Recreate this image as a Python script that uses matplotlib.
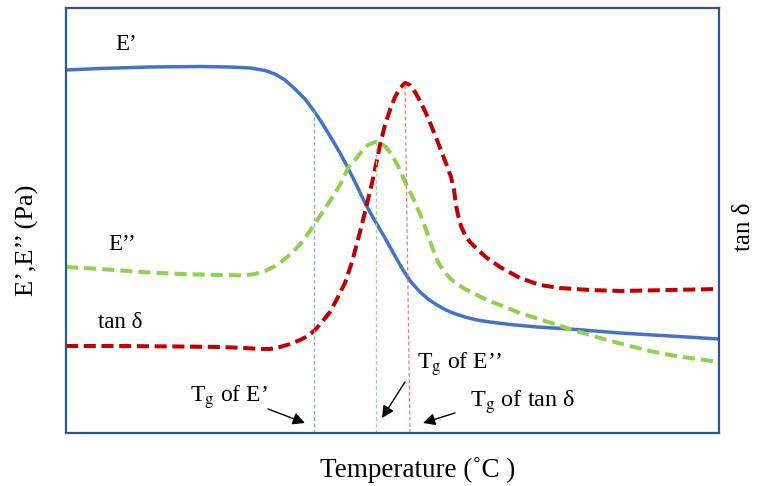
import numpy as np
import matplotlib
matplotlib.use('Agg')
import matplotlib.pyplot as plt

plt.rcParams['font.family'] = ['Liberation Serif', 'DejaVu Serif']
plt.rcParams['mathtext.fontset'] = 'stix'

# 温度（任意单位，无刻度），纵坐标为相对高度
temp_e1 = [66, 100, 150, 200, 230, 250, 265, 275, 285, 295, 305, 314, 322, 330, 340,
           348, 357, 366, 375, 385, 395, 403, 411, 420, 428, 437, 445, 453, 465, 477,
           490, 510, 537, 570, 620, 670, 719]
e_storage = [363, 364.5, 366, 366.5, 366, 365, 362.5, 359, 353, 344, 334, 322, 310, 297, 280,
             265, 247, 228, 212, 195, 177, 163, 151, 141, 134, 128, 123.5, 120, 116, 113,
             111, 108.5, 106, 104, 100, 97, 94]

temp_e2 = [66, 100, 140, 180, 220, 243, 255, 265, 275, 285, 293, 302, 310, 320, 330,
           340, 348, 355, 362, 368, 375, 380, 386, 392, 398, 403, 408, 414, 420, 425,
           430, 434, 438, 443, 448, 453, 465, 477, 487, 500, 520, 545, 570, 590, 607,
           630, 650, 670, 690, 719]
e_loss = [166, 164, 161, 159, 158, 157.5, 159, 162, 167, 174, 181, 191, 202, 217, 232,
          248, 265, 273, 282, 288, 291, 290, 286, 278, 267, 256, 245, 233, 219, 206,
          192, 181, 171, 163, 157, 152, 144, 138, 133, 128, 120, 112, 104, 98, 93,
          87, 82, 78, 75, 71]

temp_tan = [66, 120, 180, 220, 245, 260, 270, 280, 290, 300, 308, 315, 322, 330, 338,
            345, 352, 360, 366, 372, 377, 380, 385, 390, 395, 400, 405, 410, 415, 420,
            425, 431, 437, 442, 447, 451, 454, 456, 458, 461, 465, 470, 478, 487, 500,
            520, 540, 560, 590, 620, 670, 719]
tan_delta = [87, 87, 86.5, 86, 85, 84, 84, 86, 89, 93, 97, 103, 111, 121, 136,
             150, 171, 201, 225, 250, 273, 288, 308, 323, 336, 345, 350, 348, 341, 332,
             322, 308, 293, 280, 267, 256, 243, 228, 218, 207, 198, 191, 183, 175, 166,
             155, 148, 145, 143, 142, 143, 144]

# 各曲线的 Tg 位置
tg_e1 = 314
tg_e2 = 376
tg_tan_top, tg_tan_bottom = 405, 410

fig = plt.figure(figsize=(7.58, 4.86), dpi=100)
ax = fig.add_axes([66 / 758, 53 / 486, 653 / 758, 425 / 486])

ax.plot(temp_e1, e_storage, color='#4472C4', lw=2.5, solid_capstyle='round',
        solid_joinstyle='round')
ax.plot(temp_e2, e_loss, color='#92D050', lw=2.9, dashes=(3, 1.5))
ax.plot(temp_tan, tan_delta, color='#C00000', lw=2.9, dashes=(3, 1.4))

# Tg 竖直虚线
ax.plot([tg_e1, tg_e1], [0, np.interp(tg_e1, temp_e1, e_storage)],
        color='#8FAADC', lw=0.9, dashes=(3, 2))
ax.plot([tg_e2, tg_e2], [0, max(e_loss)], color='#A9D18E', lw=0.9, dashes=(3, 2))
ax.plot([tg_tan_bottom, tg_tan_top], [0, max(tan_delta)], color='#F4777B', lw=0.9,
        dashes=(3, 2))

ax.set_xlim(66, 719)
ax.set_ylim(0, 425)
ax.set_xticks([])
ax.set_yticks([])
for s in ax.spines.values():
    s.set_color('#2F5597')
    s.set_linewidth(1.6)

fs = 16.5
ax.text(115, 389, 'E’', fontsize=fs, va='center', ha='left')
ax.text(108, 189, 'E’’', fontsize=fs, va='center', ha='left')
ax.text(98, 111, 'tan δ', fontsize=fs, va='center', ha='left')

arrow = dict(arrowstyle='-|>', color='black', lw=1, mutation_scale=18,
             shrinkA=0, shrinkB=0)
ax.text(190, 36, r'T$_\mathrm{g}$ of E’', fontsize=17, va='center', ha='left')
ax.annotate('', xy=(305, 10), xytext=(268, 24), arrowprops=arrow)
ax.text(417, 69, r'T$_\mathrm{g}$ of E’’', fontsize=17, va='center', ha='left')
ax.annotate('', xy=(382, 15), xytext=(405, 51), arrowprops=arrow)
ax.text(470, 31, r'T$_\mathrm{g}$ of tan δ', fontsize=17.5, va='center', ha='left')
ax.annotate('', xy=(423, 10), xytext=(455, 20), arrowprops=arrow)

fig.text(27 / 758, 1 - 240 / 486, 'E’,E’’ (Pa)', fontsize=19, rotation=90,
         ha='center', va='center')
fig.text(744 / 758, 1 - 227 / 486, 'tan δ', fontsize=18, rotation=90,
         ha='center', va='center')
fig.text(418 / 758, 1 - 470 / 486, 'Temperature (˚C )', fontsize=19.5,
         ha='center', va='center')

fig.savefig('out.png', dpi=100)
